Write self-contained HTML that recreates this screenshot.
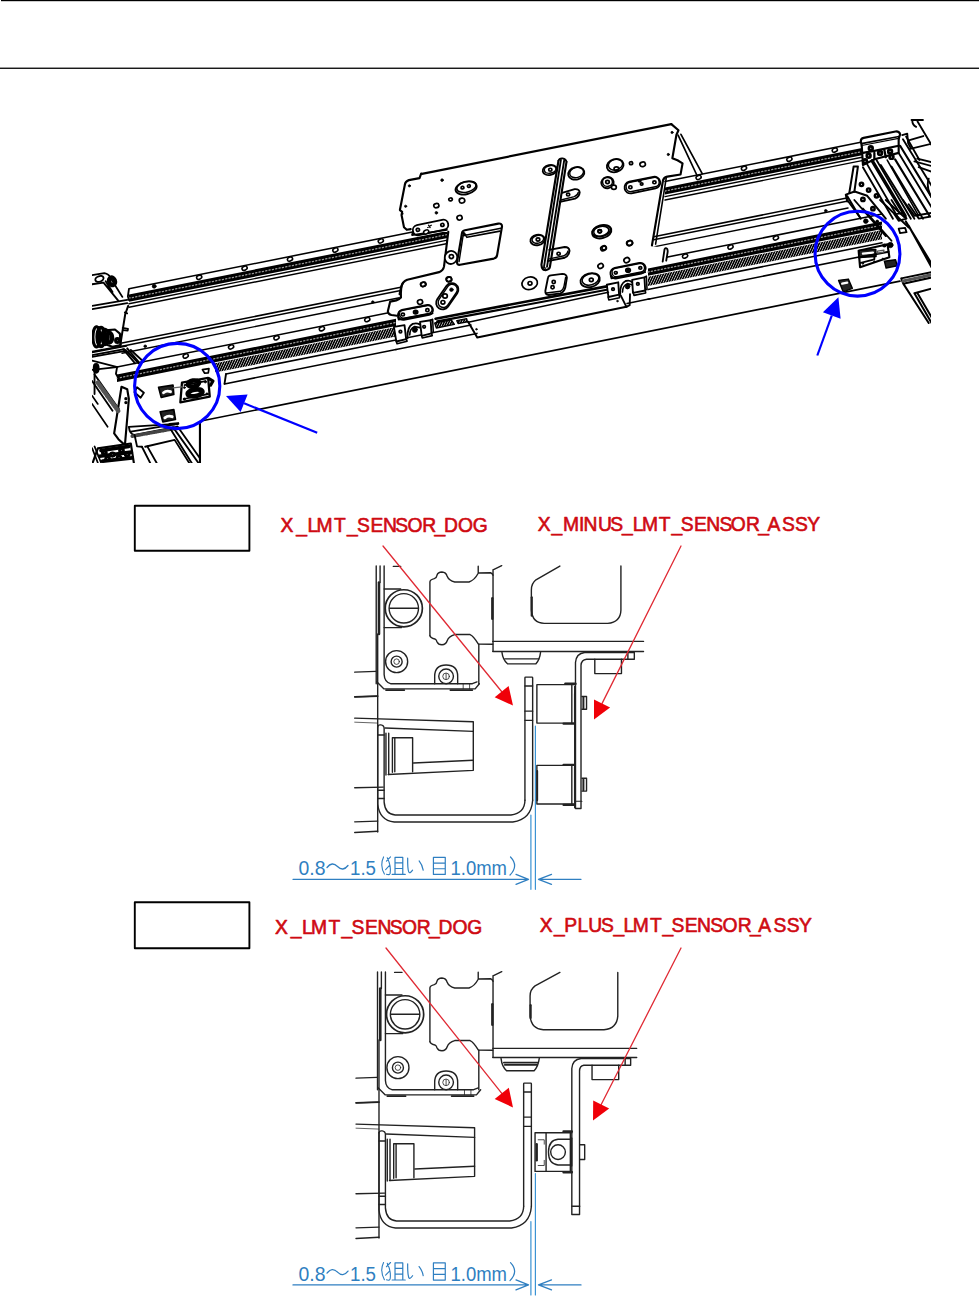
<!DOCTYPE html>
<html><head><meta charset="utf-8"><title>page</title>
<style>
html,body{margin:0;padding:0;background:#fff;}
body{width:979px;height:1301px;overflow:hidden;font-family:"Liberation Sans",sans-serif;}
svg{display:block;position:absolute;left:0;top:0;}
text{font-family:"Liberation Sans",sans-serif;}
</style></head><body>
<svg width="979" height="1301" viewBox="0 0 979 1301" stroke-linecap="round" stroke-linejoin="round">
<rect x="0" y="0" width="979" height="1301" fill="#fff"/>
<defs><clipPath id="topclip"><rect x="92" y="100" width="839" height="363"/></clipPath><pattern id="teeth" width="2.4" height="10" patternUnits="userSpaceOnUse" patternTransform="skewX(-25)"><rect width="2.4" height="10" fill="#000"/><rect x="0" width="0.7" height="10" fill="#ddd"/></pattern></defs>
<g clip-path="url(#topclip)">
<line x1="129" y1="288.70" x2="450" y2="224.50" stroke="#000" stroke-width="1.56" />
<polygon points="129,294.60 450,230.40 450,237.60 129,301.80" fill="#000" />
<line x1="129" y1="298.20" x2="450" y2="234.00" stroke="#999" stroke-width="1.28" stroke-dasharray="1.2 2.2"/>
<line x1="129" y1="303.80" x2="450" y2="239.60" stroke="#000" stroke-width="1.42" />
<line x1="129" y1="307.20" x2="450" y2="243.00" stroke="#000" stroke-width="1.42" />
<line x1="665" y1="181.50" x2="862" y2="142.10" stroke="#000" stroke-width="1.56" />
<polygon points="665,187.40 862,148.00 862,155.20 665,194.60" fill="#000" />
<line x1="665" y1="191.00" x2="862" y2="151.60" stroke="#999" stroke-width="1.28" stroke-dasharray="1.2 2.2"/>
<line x1="665" y1="196.60" x2="862" y2="157.20" stroke="#000" stroke-width="1.42" />
<line x1="665" y1="200.00" x2="862" y2="160.60" stroke="#000" stroke-width="1.42" />
<line x1="122" y1="343.00" x2="402" y2="287.00" stroke="#000" stroke-width="1.56" />
<line x1="122" y1="346.20" x2="402" y2="290.20" stroke="#000" stroke-width="1.56" />
<line x1="122" y1="353.20" x2="402" y2="297.20" stroke="#000" stroke-width="1.42" />
<line x1="650" y1="237.40" x2="848" y2="197.80" stroke="#000" stroke-width="1.56" />
<line x1="650" y1="240.60" x2="848" y2="201.00" stroke="#000" stroke-width="1.56" />
<line x1="650" y1="247.60" x2="848" y2="208.00" stroke="#000" stroke-width="1.42" />
<line x1="117" y1="367.10" x2="396" y2="311.30" stroke="#000" stroke-width="1.56" />
<polygon points="117,374.60 396,318.80 396,326.10 117,381.90" fill="#000" />
<line x1="117" y1="378.20" x2="396" y2="322.40" stroke="#999" stroke-width="1.28" stroke-dasharray="1.2 2.2"/>
<polygon points="215,363.30 396,327.10 396,336.40 215,372.60" fill="url(#teeth)" />
<line x1="226" y1="374.00" x2="396" y2="340.00" stroke="#000" stroke-width="1.56" />
<line x1="224.5" y1="383.90" x2="396" y2="349.60" stroke="#000" stroke-width="1.56" />
<line x1="396" y1="340.00" x2="471" y2="325.00" stroke="#000" stroke-width="1.56" />
<line x1="396" y1="349.60" x2="477" y2="333.40" stroke="#000" stroke-width="1.56" />
<line x1="627" y1="303.40" x2="650" y2="298.80" stroke="#000" stroke-width="1.56" />
<line x1="648" y1="260.90" x2="882" y2="214.10" stroke="#000" stroke-width="1.56" />
<polygon points="648,268.40 882,221.60 882,228.90 648,275.70" fill="#000" />
<line x1="648" y1="272.00" x2="882" y2="225.20" stroke="#999" stroke-width="1.28" stroke-dasharray="1.2 2.2"/>
<polygon points="648,276.70 882,229.90 882,239.20 648,286.00" fill="url(#teeth)" />
<line x1="648" y1="289.60" x2="882" y2="242.80" stroke="#000" stroke-width="1.56" />
<line x1="648" y1="299.20" x2="882" y2="252.40" stroke="#000" stroke-width="1.56" />
<line x1="201" y1="421.00" x2="900" y2="281.20" stroke="#000" stroke-width="1.70" />
</g>
<polygon points="421.9,173.9 671.3,124.1 678.5,130.2 672.4,158.2 677.5,160.3 682.6,163.3 680.5,174.6 666.2,176.6 663.2,181.7 652.5,246 666,248.7 664.4,260.2 649.7,263.5 644,280 605.5,289.2 464.5,319.9 396.9,318.5 390.7,315.8 387.7,311.7 390.7,303.5 398.9,301.5 401,289.2 403,283.1 407.1,279 441.8,270.9 443.9,266.8 447.9,238 447.4,232.1 413.7,231 404.5,226 400.4,211.7 405.5,185.2 408.6,180.1 419.8,178" fill="#fff" stroke="none"/>
<path d="M421.9 173.9 L671.3 124.1" stroke="#000" stroke-width="2.13" fill="none"/>
<path d="M 671.34 124.11 L 678.49 130.23 L 676.45 134.73 L 672.36 158.22 L 677.47 160.27 L 682.57 163.33 L 680.53 174.57 L 667.25 176.61 Q 663.17 177.63 662.76 181.72 L 651.93 245.45" stroke="#000" stroke-width="2.13" fill="none" />
<path d="M 666.23 178.24 L 655.61 244.23" stroke="#000" stroke-width="1.56" fill="none" />
<path d="M 678.08 135.14 L 697.28 176.0 M 680.94 134.32 L 702.19 173.54" stroke="#000" stroke-width="1.70" fill="none" />
<path d="M 421.15 173.6 L 419.51 178.17 L 408.89 180.13 Q 405.13 181.44 404.81 185.04 L 399.9 210.04 L 402.19 211.84 L 401.54 214.94 L 403.99 227.2 L 406.77 229.81 L 410.69 229.16" stroke="#000" stroke-width="2.13" fill="none" />
<ellipse cx="409.38" cy="185.85" rx="1.14" ry="1.14" transform="rotate(0 409.38 185.85)" stroke="#000" stroke-width="0.71" fill="#000"/>
<ellipse cx="442.07" cy="180.13" rx="1.31" ry="1.31" transform="rotate(0 442.07 180.13)" stroke="#000" stroke-width="0.71" fill="#000"/>
<ellipse cx="405.62" cy="206.28" rx="1.14" ry="1.14" transform="rotate(0 405.62 206.28)" stroke="#000" stroke-width="0.71" fill="#000"/>
<ellipse cx="436.35" cy="212.82" rx="1.31" ry="1.31" transform="rotate(0 436.35 212.82)" stroke="#000" stroke-width="0.71" fill="#000"/>
<ellipse cx="402.35" cy="213.8" rx="0.65" ry="0.65" transform="rotate(0 402.35 213.8)" stroke="#000" stroke-width="0.71" fill="#000"/>
<ellipse cx="436.35" cy="205.63" rx="2.61" ry="2.12" transform="rotate(-12 436.35 205.63)" stroke="#000" stroke-width="1.70" fill="none"/>
<ellipse cx="450.56" cy="199.42" rx="1.80" ry="1.47" transform="rotate(-12 450.56 199.42)" stroke="#000" stroke-width="1.70" fill="none"/>
<ellipse cx="462.0" cy="200.56" rx="2.78" ry="2.45" transform="rotate(-12 462.0 200.56)" stroke="#000" stroke-width="1.70" fill="none"/>
<ellipse cx="459.55" cy="217.72" rx="2.61" ry="2.29" transform="rotate(-12 459.55 217.72)" stroke="#000" stroke-width="1.70" fill="none"/>
<ellipse cx="466.09" cy="187.98" rx="10.79" ry="6.21" transform="rotate(-14 466.09 187.98)" stroke="#000" stroke-width="1.85" fill="none"/>
<ellipse cx="466.42" cy="186.83" rx="9.81" ry="5.23" transform="rotate(-14 466.42 186.83)" stroke="#000" stroke-width="1.56" fill="none"/>
<ellipse cx="462.49" cy="187.65" rx="1.47" ry="1.31" transform="rotate(-12 462.49 187.65)" stroke="#000" stroke-width="1.70" fill="none"/>
<ellipse cx="468.87" cy="186.02" rx="1.47" ry="1.31" transform="rotate(-12 468.87 186.02)" stroke="#000" stroke-width="1.70" fill="none"/>
<path d="M418.93 235.10 L444.26 229.71 A5.07 5.07 0 0 0 442.16 219.79 L416.83 225.18 A5.07 5.07 0 0 0 418.93 235.10 Z" stroke="#000" stroke-width="1.85" fill="#fff"/>
<path d="M 412.65 232.43 L 412.0 235.04 L 446.97 229.81" stroke="#000" stroke-width="1.70" fill="none" />
<ellipse cx="417.88" cy="229.81" rx="1.63" ry="1.47" transform="rotate(-12 417.88 229.81)" stroke="#000" stroke-width="1.70" fill="none"/>
<ellipse cx="442.39" cy="224.91" rx="1.63" ry="1.47" transform="rotate(-12 442.39 224.91)" stroke="#000" stroke-width="1.70" fill="none"/>
<path d="M 427.69 227.53 L 431.28 225.24 M 428.5 225.24 L 430.14 227.53" stroke="#000" stroke-width="1.28" fill="none" />
<path d="M 448.28 231.77 L 444.03 266.42 Q 443.37 270.51 439.12 272.14 L 407.26 279.82 Q 402.35 281.95 401.21 286.85 L 399.58 294.2" stroke="#000" stroke-width="2.13" fill="none" />
<ellipse cx="451.05" cy="257.43" rx="6.21" ry="6.54" transform="rotate(20 451.05 257.43)" stroke="#000" stroke-width="1.85" fill="#fff"/>
<ellipse cx="451.38" cy="256.62" rx="2.12" ry="1.96" transform="rotate(0 451.38 256.62)" stroke="#000" stroke-width="1.70" fill="none"/>
<path d="M 462.0 232.92 Q 462.33 230.79 464.95 230.3 L 498.28 223.6 Q 502.04 223.11 502.04 226.38 L 497.14 254.98 Q 496.65 257.92 493.87 258.58 L 460.04 264.79 Q 456.77 265.11 457.1 261.85 Z" stroke="#000" stroke-width="2.13" fill="#fff" />
<path d="M 462.98 235.7 L 500.9 228.18 M 466.91 237.33 L 499.92 231.12 M 464.46 233.08 L 466.91 237.33" stroke="#000" stroke-width="1.56" fill="none" />
<path d="M 463.64 232.1 L 459.06 261.52" stroke="#000" stroke-width="1.42" fill="none" />
<ellipse cx="423.11" cy="284.4" rx="2.45" ry="2.12" transform="rotate(-12 423.11 284.4)" stroke="#000" stroke-width="1.70" fill="none"/>
<ellipse cx="448.93" cy="279.17" rx="2.61" ry="2.29" transform="rotate(-12 448.93 279.17)" stroke="#000" stroke-width="1.70" fill="none"/>
<path d="M 558.47 160.72 Q 559.28 158.11 562.55 158.44 Q 566.15 159.09 566.47 161.87" stroke="#000" stroke-width="1.85" fill="none" />
<path d="M558.47 160.72 L541.44 264.65 Q541.77 270.04 545.53 270.2 Q549.61 269.22 549.94 266.77 L566.47 161.87" stroke="#000" stroke-width="2.13" fill="#fff"/>
<path d="M560.92 159.91 L544.05 266.28 M564.19 160.4 L547.0 266.93" stroke="#000" stroke-width="1.85" fill="none"/>
<ellipse cx="543.89" cy="268.4" rx="1.31" ry="1.31" transform="rotate(0 543.89 268.4)" stroke="#000" stroke-width="1.42" fill="none"/>
<ellipse cx="549.81" cy="170.04" rx="7.19" ry="4.90" transform="rotate(-12 549.81 170.04)" stroke="#000" stroke-width="1.85" fill="#fff"/>
<ellipse cx="550.13" cy="169.39" rx="5.88" ry="3.76" transform="rotate(-12 550.13 169.39)" stroke="#000" stroke-width="1.42" fill="none"/>
<ellipse cx="550.3" cy="169.71" rx="1.63" ry="1.47" transform="rotate(0 550.3 169.71)" stroke="#000" stroke-width="1.70" fill="none"/>
<path d="M 562.06 192.92 L 574.65 189.16 Q 579.22 188.83 579.71 192.43 Q 579.22 197.0 575.14 198.64 L 559.94 201.91" stroke="#000" stroke-width="1.85" fill="none" />
<path d="M 560.92 199.95 L 574.32 196.68 Q 577.91 195.04 578.24 192.43" stroke="#000" stroke-width="1.42" fill="none" />
<ellipse cx="568.11" cy="194.55" rx="1.63" ry="1.47" transform="rotate(0 568.11 194.55)" stroke="#000" stroke-width="1.70" fill="none"/>
<ellipse cx="537.51" cy="239.95" rx="7.19" ry="5.23" transform="rotate(-12 537.51 239.95)" stroke="#000" stroke-width="1.85" fill="#fff"/>
<ellipse cx="537.83" cy="239.29" rx="5.88" ry="3.92" transform="rotate(-12 537.83 239.29)" stroke="#000" stroke-width="1.42" fill="none"/>
<ellipse cx="538.0" cy="239.46" rx="1.80" ry="1.63" transform="rotate(0 538.0 239.46)" stroke="#000" stroke-width="1.70" fill="none"/>
<path d="M 549.28 249.94 L 564.65 247.0 Q 569.22 247.0 569.55 250.92 Q 568.9 255.82 564.65 257.78 L 547.65 261.05" stroke="#000" stroke-width="1.85" fill="none" />
<path d="M 548.3 259.09 L 563.99 255.82 Q 567.59 254.19 568.08 250.92" stroke="#000" stroke-width="1.42" fill="none" />
<ellipse cx="558.6" cy="253.7" rx="1.63" ry="1.47" transform="rotate(0 558.6 253.7)" stroke="#000" stroke-width="1.70" fill="none"/>
<ellipse cx="576.28" cy="173.31" rx="8.17" ry="6.21" transform="rotate(-15 576.28 173.31)" stroke="#000" stroke-width="1.85" fill="none"/>
<ellipse cx="576.61" cy="172.49" rx="7.03" ry="5.07" transform="rotate(-15 576.61 172.49)" stroke="#000" stroke-width="1.42" fill="none"/>
<ellipse cx="615.18" cy="165.63" rx="8.50" ry="6.54" transform="rotate(-15 615.18 165.63)" stroke="#000" stroke-width="1.85" fill="none"/>
<ellipse cx="615.5" cy="164.65" rx="7.19" ry="5.23" transform="rotate(-15 615.5 164.65)" stroke="#000" stroke-width="1.42" fill="none"/>
<ellipse cx="616.48" cy="168.9" rx="2.45" ry="1.96" transform="rotate(0 616.48 168.9)" stroke="#000" stroke-width="1.70" fill="none"/>
<ellipse cx="631.03" cy="163.18" rx="1.63" ry="1.47" transform="rotate(-12 631.03 163.18)" stroke="#000" stroke-width="1.70" fill="none"/>
<ellipse cx="642.63" cy="164.32" rx="2.78" ry="2.29" transform="rotate(-12 642.63 164.32)" stroke="#000" stroke-width="1.70" fill="none"/>
<ellipse cx="607.49" cy="182.62" rx="6.21" ry="5.56" transform="rotate(-12 607.49 182.62)" stroke="#000" stroke-width="1.85" fill="none"/>
<ellipse cx="607.49" cy="181.97" rx="4.90" ry="4.41" transform="rotate(-12 607.49 181.97)" stroke="#000" stroke-width="1.42" fill="none"/>
<ellipse cx="607.49" cy="181.97" rx="1.80" ry="1.63" transform="rotate(0 607.49 181.97)" stroke="#000" stroke-width="1.70" fill="none"/>
<ellipse cx="613.87" cy="187.2" rx="2.45" ry="2.12" transform="rotate(0 613.87 187.2)" stroke="#000" stroke-width="1.70" fill="#fff"/>
<path d="M631.55 193.29 L655.58 188.38 A5.88 5.88 0 0 0 653.22 176.86 L629.19 181.77 A5.88 5.88 0 0 0 631.55 193.29 Z" stroke="#000" stroke-width="1.85" fill="#fff"/>
<path d="M631.80 191.52 L655.34 186.78 A4.74 4.74 0 0 0 653.46 177.48 L629.92 182.22 A4.74 4.74 0 0 0 631.80 191.52 Z" stroke="#000" stroke-width="1.42" fill="none"/>
<ellipse cx="630.37" cy="187.2" rx="1.63" ry="1.47" transform="rotate(0 630.37 187.2)" stroke="#000" stroke-width="1.70" fill="none"/>
<ellipse cx="654.4" cy="182.3" rx="1.63" ry="1.47" transform="rotate(0 654.4 182.3)" stroke="#000" stroke-width="1.70" fill="none"/>
<ellipse cx="641.65" cy="183.93" rx="1.31" ry="1.14" transform="rotate(0 641.65 183.93)" stroke="#000" stroke-width="1.70" fill="none"/>
<ellipse cx="639.69" cy="180.99" rx="1.14" ry="0.98" transform="rotate(0 639.69 180.99)" stroke="#000" stroke-width="1.70" fill="none"/>
<ellipse cx="601.77" cy="231.65" rx="9.81" ry="6.54" transform="rotate(-15 601.77 231.65)" stroke="#000" stroke-width="1.85" fill="none"/>
<ellipse cx="602.1" cy="230.83" rx="8.50" ry="5.39" transform="rotate(-15 602.1 230.83)" stroke="#000" stroke-width="1.42" fill="none"/>
<ellipse cx="599.65" cy="231.32" rx="1.80" ry="1.63" transform="rotate(0 599.65 231.32)" stroke="#000" stroke-width="1.70" fill="none"/>
<ellipse cx="629.56" cy="243.09" rx="2.94" ry="2.29" transform="rotate(-12 629.56 243.09)" stroke="#000" stroke-width="1.70" fill="none"/>
<ellipse cx="604.06" cy="247.99" rx="2.12" ry="1.80" transform="rotate(-12 604.06 247.99)" stroke="#000" stroke-width="1.70" fill="none"/>
<ellipse cx="672.05" cy="132.45" rx="1.14" ry="1.14" transform="rotate(0 672.05 132.45)" stroke="#000" stroke-width="0.71" fill="#000"/>
<ellipse cx="668.29" cy="154.51" rx="1.14" ry="1.14" transform="rotate(0 668.29 154.51)" stroke="#000" stroke-width="0.71" fill="#000"/>
<ellipse cx="600.6" cy="231.31" rx="8.50" ry="4.90" transform="rotate(-12 600.6 231.31)" stroke="#000" stroke-width="1.85" fill="none"/>
<ellipse cx="599.95" cy="231.31" rx="1.63" ry="1.47" transform="rotate(0 599.95 231.31)" stroke="#000" stroke-width="1.70" fill="none"/>
<ellipse cx="603.54" cy="248.3" rx="2.94" ry="2.29" transform="rotate(-30 603.54 248.3)" stroke="#000" stroke-width="1.70" fill="none"/>
<ellipse cx="629.69" cy="243.07" rx="2.94" ry="2.45" transform="rotate(-30 629.69 243.07)" stroke="#000" stroke-width="1.70" fill="none"/>
<ellipse cx="626.75" cy="260.23" rx="2.94" ry="2.45" transform="rotate(-30 626.75 260.23)" stroke="#000" stroke-width="1.70" fill="none"/>
<ellipse cx="600.6" cy="265.95" rx="2.78" ry="2.29" transform="rotate(-30 600.6 265.95)" stroke="#000" stroke-width="1.70" fill="none"/>
<path d="M 547.98 277.72 Q 548.3 275.76 550.92 275.43 L 562.36 273.8 Q 566.61 273.8 566.93 277.72 L 565.3 287.53 Q 563.99 292.43 560.23 293.41 L 548.79 295.04 Q 545.04 294.72 545.36 290.79 Z" stroke="#000" stroke-width="1.85" fill="none" />
<path d="M 546.34 292.92 L 560.4 291.28 Q 563.34 289.81 563.99 286.38 L 565.63 277.39" stroke="#000" stroke-width="1.42" fill="none" />
<ellipse cx="553.7" cy="281.97" rx="1.63" ry="1.63" transform="rotate(0 553.7 281.97)" stroke="#000" stroke-width="1.70" fill="none"/>
<ellipse cx="552.55" cy="287.2" rx="1.63" ry="1.63" transform="rotate(0 552.55 287.2)" stroke="#000" stroke-width="1.70" fill="none"/>
<ellipse cx="590.14" cy="280.17" rx="9.81" ry="6.86" transform="rotate(-15 590.14 280.17)" stroke="#000" stroke-width="1.85" fill="none"/>
<ellipse cx="590.47" cy="279.35" rx="8.50" ry="5.56" transform="rotate(-15 590.47 279.35)" stroke="#000" stroke-width="1.42" fill="none"/>
<ellipse cx="591.28" cy="279.84" rx="1.96" ry="1.80" transform="rotate(0 591.28 279.84)" stroke="#000" stroke-width="1.70" fill="none"/>
<ellipse cx="529.67" cy="283.28" rx="7.84" ry="6.21" transform="rotate(-15 529.67 283.28)" stroke="#000" stroke-width="1.70" fill="none"/>
<ellipse cx="530.0" cy="283.28" rx="1.96" ry="1.80" transform="rotate(0 530.0 283.28)" stroke="#000" stroke-width="1.70" fill="none"/>
<path d="M616.86 278.43 L641.37 273.53 A5.39 5.39 0 0 0 639.25 262.95 L614.74 267.85 A5.39 5.39 0 0 0 616.86 278.43 Z" stroke="#000" stroke-width="1.85" fill="#fff"/>
<path d="M617.11 276.66 L641.13 271.92 A4.25 4.25 0 0 0 639.49 263.58 L615.47 268.32 A4.25 4.25 0 0 0 617.11 276.66 Z" stroke="#000" stroke-width="1.42" fill="none"/>
<path d="M 610.73 275.76 L 611.39 278.37 L 645.21 272.16" stroke="#000" stroke-width="1.70" fill="none" />
<ellipse cx="615.8" cy="272.82" rx="1.47" ry="1.31" transform="rotate(0 615.8 272.82)" stroke="#000" stroke-width="1.70" fill="none"/>
<ellipse cx="628.06" cy="270.2" rx="1.63" ry="1.63" transform="rotate(0 628.06 270.2)" stroke="#000" stroke-width="0.71" fill="#000"/>
<ellipse cx="628.06" cy="270.2" rx="2.29" ry="1.96" transform="rotate(0 628.06 270.2)" stroke="#000" stroke-width="1.70" fill="none"/>
<ellipse cx="640.31" cy="267.91" rx="1.47" ry="1.31" transform="rotate(0 640.31 267.91)" stroke="#000" stroke-width="1.70" fill="none"/>
<path d="M 606.81 284.75 L 618.25 282.3 L 619.07 294.55 L 608.44 297.0 Z" stroke="#000" stroke-width="1.85" fill="#fff" />
<ellipse cx="613.02" cy="289.16" rx="1.31" ry="1.31" transform="rotate(0 613.02 289.16)" stroke="#000" stroke-width="1.70" fill="none"/>
<path d="M 608.12 297.0 L 608.77 299.95 L 619.56 297.66 L 619.07 294.55" stroke="#000" stroke-width="1.56" fill="none" />
<path d="M 632.14 279.84 L 644.4 277.39 L 645.21 290.47 L 632.96 292.92 Z" stroke="#000" stroke-width="1.85" fill="#fff" />
<ellipse cx="637.86" cy="283.93" rx="1.31" ry="1.31" transform="rotate(0 637.86 283.93)" stroke="#000" stroke-width="1.70" fill="none"/>
<path d="M 633.28 292.92 L 633.94 295.37 L 645.71 292.92 L 645.21 290.47 M 644.4 277.39 L 646.36 276.09 L 647.01 288.83 L 645.21 290.47" stroke="#000" stroke-width="1.56" fill="none" />
<path d="M 620.21 294.06 Q 619.56 283.93 625.6 280.99 Q 629.69 279.84 631.65 281.97" stroke="#000" stroke-width="1.85" fill="none" />
<path d="M 622.5 292.1 Q 622.5 285.56 627.4 283.6 L 631.65 284.75" stroke="#000" stroke-width="1.56" fill="none" />
<ellipse cx="627.56" cy="286.38" rx="2.29" ry="2.61" transform="rotate(0 627.56 286.38)" stroke="#000" stroke-width="0.71" fill="#000"/>
<path d="M 620.7 295.37 L 626.42 306.81 L 629.69 305.18 L 630.02 294.06" stroke="#000" stroke-width="1.85" fill="none" />
<ellipse cx="617.43" cy="301.09" rx="0.82" ry="0.82" transform="rotate(0 617.43 301.09)" stroke="#000" stroke-width="0.71" fill="#000"/>
<path d="M435.56 318.64 L606.81 286.38" stroke="#000" stroke-width="2.56" fill="none"/>
<path d="M437.2 321.42 L606.81 289.81" stroke="#000" stroke-width="2.13" fill="none"/>
<path d="M468.25 321.91 L477.24 337.43 L626.42 306.81" stroke="#000" stroke-width="1.99" fill="none"/>
<path d="M468.25 322.23 L608.44 292.27" stroke="#000" stroke-width="1.56" fill="none"/>
<ellipse cx="476.42" cy="329.26" rx="0.82" ry="0.82" transform="rotate(0 476.42 329.26)" stroke="#000" stroke-width="0.71" fill="#000"/>
<path d="M 400.92 297.39 Q 399.28 299.68 396.34 300.34 L 390.13 301.64 L 387.84 311.28 Q 388.17 314.06 391.44 315.04 L 397.0 315.7" stroke="#000" stroke-width="2.13" fill="none" />
<path d="M 402.88 283.01 Q 400.59 286.77 400.92 297.39" stroke="#000" stroke-width="2.13" fill="none" />
<ellipse cx="423.31" cy="284.32" rx="2.78" ry="2.12" transform="rotate(-12 423.31 284.32)" stroke="#000" stroke-width="1.70" fill="none"/>
<ellipse cx="448.97" cy="279.42" rx="2.78" ry="2.29" transform="rotate(-12 448.97 279.42)" stroke="#000" stroke-width="1.70" fill="none"/>
<ellipse cx="420.04" cy="301.97" rx="2.61" ry="2.29" transform="rotate(-12 420.04 301.97)" stroke="#000" stroke-width="1.70" fill="none"/>
<path d="M447.96 306.68 L457.28 293.28 A6.54 6.54 0 0 0 446.54 285.82 L437.22 299.22 A6.54 6.54 0 0 0 447.96 306.68 Z" stroke="#000" stroke-width="1.85" fill="#fff"/>
<path d="M447.74 305.24 L456.40 292.49 A5.23 5.23 0 0 0 447.74 286.61 L439.08 299.36 A5.23 5.23 0 0 0 447.74 305.24 Z" stroke="#000" stroke-width="1.42" fill="none"/>
<ellipse cx="451.42" cy="289.71" rx="1.80" ry="1.80" transform="rotate(0 451.42 289.71)" stroke="#000" stroke-width="0.71" fill="#000"/>
<ellipse cx="445.04" cy="295.92" rx="2.29" ry="2.12" transform="rotate(0 445.04 295.92)" stroke="#000" stroke-width="1.70" fill="none"/>
<ellipse cx="442.92" cy="302.3" rx="1.96" ry="1.80" transform="rotate(0 442.92 302.3)" stroke="#000" stroke-width="1.70" fill="none"/>
<path d="M403.84 319.85 L429.17 314.95 A5.07 5.07 0 0 0 427.25 305.01 L401.92 309.91 A5.07 5.07 0 0 0 403.84 319.85 Z" stroke="#000" stroke-width="1.85" fill="#fff"/>
<path d="M404.11 318.08 L428.95 313.34 A3.92 3.92 0 0 0 427.47 305.64 L402.63 310.38 A3.92 3.92 0 0 0 404.11 318.08 Z" stroke="#000" stroke-width="1.42" fill="none"/>
<path d="M 397.98 317.0 L 398.63 319.62 L 432.62 313.41" stroke="#000" stroke-width="1.70" fill="none" />
<ellipse cx="402.88" cy="314.55" rx="1.63" ry="1.47" transform="rotate(0 402.88 314.55)" stroke="#000" stroke-width="1.70" fill="none"/>
<ellipse cx="415.63" cy="312.1" rx="1.47" ry="1.47" transform="rotate(0 415.63 312.1)" stroke="#000" stroke-width="0.71" fill="#000"/>
<ellipse cx="415.63" cy="312.1" rx="2.12" ry="1.80" transform="rotate(0 415.63 312.1)" stroke="#000" stroke-width="1.70" fill="none"/>
<ellipse cx="427.39" cy="310.14" rx="1.63" ry="1.47" transform="rotate(0 427.39 310.14)" stroke="#000" stroke-width="1.70" fill="none"/>
<path d="M 393.89 326.81 L 404.51 325.18 L 406.15 339.07 L 396.34 341.52 Z" stroke="#000" stroke-width="1.85" fill="#fff" />
<ellipse cx="400.43" cy="331.71" rx="1.31" ry="1.31" transform="rotate(0 400.43 331.71)" stroke="#000" stroke-width="1.70" fill="none"/>
<path d="M 396.34 341.52 L 397.0 343.81 L 407.13 341.19 L 406.15 339.07" stroke="#000" stroke-width="1.56" fill="none" />
<path d="M 420.04 321.91 L 430.66 320.27 L 431.48 333.35 L 421.67 335.8 Z" stroke="#000" stroke-width="1.85" fill="#fff" />
<ellipse cx="424.12" cy="326.81" rx="1.31" ry="1.31" transform="rotate(0 424.12 326.81)" stroke="#000" stroke-width="1.70" fill="none"/>
<path d="M 421.67 335.8 L 422.16 337.92 L 432.3 335.63 L 431.48 333.35 M 430.66 320.27 L 432.62 319.29 L 433.28 331.71 L 431.48 333.35" stroke="#000" stroke-width="1.56" fill="none" />
<path d="M 407.46 338.25 Q 406.97 326.81 412.69 323.87 Q 416.77 322.72 419.71 324.36" stroke="#000" stroke-width="1.85" fill="none" />
<path d="M 409.74 334.98 Q 409.74 328.44 414.65 326.48 L 419.71 327.63" stroke="#000" stroke-width="1.56" fill="none" />
<ellipse cx="414.81" cy="329.59" rx="2.61" ry="2.94" transform="rotate(0 414.81 329.59)" stroke="#000" stroke-width="0.71" fill="#000"/>
<path d="M 434.75 323.05 L 451.09 319.78 L 454.36 324.36 L 436.38 327.95 Z" stroke="#000" stroke-width="1.42" fill="url(#teeth)" />
<path d="M 456.81 320.6 L 466.62 318.64 L 467.43 321.91 L 458.12 323.54 Z" stroke="#000" stroke-width="1.42" fill="url(#teeth)" />
<g clip-path="url(#topclip)">
<path d="M 128.86 289.51 L 127.88 296.38 L 128.86 300.14" stroke="#000" stroke-width="1.85" fill="none" />
<ellipse cx="154.19" cy="286.25" rx="1.96" ry="1.96" transform="rotate(0 154.19 286.25)" stroke="#000" stroke-width="0.71" fill="#000"/>
<ellipse cx="99.44" cy="278.89" rx="4.25" ry="2.78" transform="rotate(-20 99.44 278.89)" stroke="#000" stroke-width="1.85" fill="none"/>
<path d="M 92.09 275.13 L 104.34 273.17 Q 108.92 273.99 110.06 277.26 L 122.32 296.87 M 92.09 284.28 L 103.53 282.65 L 118.23 300.63 M 105.65 281.34 L 112.51 291.97" stroke="#000" stroke-width="1.85" fill="none" />
<ellipse cx="112.02" cy="281.34" rx="2.94" ry="3.92" transform="rotate(-20 112.02 281.34)" stroke="#000" stroke-width="4.26" fill="none"/>
<path d="M 92.09 305.86 L 127.22 299.81 M 92.09 309.12 L 127.22 303.08" stroke="#000" stroke-width="1.85" fill="none" />
<path d="M 128.2 305.86 L 125.26 314.03 L 123.14 327.1 L 120.03 346.71" stroke="#000" stroke-width="1.99" fill="none" />
<path d="M 124.77 312.39 L 127.22 313.37 M 122.65 327.92 L 128.04 328.74 L 127.71 330.7 L 122.97 330.04" stroke="#000" stroke-width="1.70" fill="none" />
<ellipse cx="96.5" cy="336.91" rx="3.60" ry="10.13" transform="rotate(0 96.5 336.91)" stroke="#000" stroke-width="3.12" fill="none"/>
<ellipse cx="101.07" cy="336.91" rx="3.92" ry="9.48" transform="rotate(0 101.07 336.91)" stroke="#000" stroke-width="3.55" fill="none"/>
<ellipse cx="105.16" cy="336.91" rx="3.27" ry="7.84" transform="rotate(0 105.16 336.91)" stroke="#000" stroke-width="2.84" fill="none"/>
<path d="M 96.5 326.77 L 105.16 329.06 M 96.5 347.04 L 105.16 344.75" stroke="#000" stroke-width="2.13" fill="none" />
<path d="M 105.16 330.37 L 114.97 329.55 L 119.87 333.64 L 120.69 345.08 L 112.51 346.71 L 105.16 344.26" stroke="#000" stroke-width="2.13" fill="none" />
<ellipse cx="109.25" cy="337.72" rx="2.94" ry="4.90" transform="rotate(0 109.25 337.72)" stroke="#000" stroke-width="4.26" fill="none"/>
<ellipse cx="117.42" cy="340.5" rx="1.80" ry="1.96" transform="rotate(0 117.42 340.5)" stroke="#000" stroke-width="3.12" fill="none"/>
<path d="M 97.81 332.0 L 97.81 341.81 M 103.53 331.19 L 103.53 342.63" stroke="#000" stroke-width="3.12" fill="none" />
<path d="M 92.09 351.62 L 120.69 346.39 M 92.09 355.21 L 124.28 349.16 M 92.09 360.6 L 117.42 367.14" stroke="#000" stroke-width="1.85" fill="none" />
<ellipse cx="145.2" cy="346.22" rx="1.31" ry="1.31" transform="rotate(0 145.2 346.22)" stroke="#000" stroke-width="0.71" fill="#000"/>
<path d="M 123.14 349.16 L 135.07 363.38 M 127.22 348.35 L 138.99 362.4" stroke="#000" stroke-width="1.85" fill="none" />
<path d="M 117.09 367.14 L 115.95 373.68 L 118.4 378.09" stroke="#000" stroke-width="1.85" fill="none" />
<path d="M 125.59 350.0 L 138.66 363.4 M 130.82 350.0 L 143.56 361.77" stroke="#000" stroke-width="1.85" fill="none" />
<path d="M 92.09 352.45 L 126.4 345.91 M 92.09 369.94 L 116.6 367.16 M 92.09 356.86 L 125.59 350.82" stroke="#000" stroke-width="1.70" fill="none" />
<path d="M 137.03 387.26 L 143.89 392.82 L 140.62 397.72 L 134.41 392.16 Z" stroke="#000" stroke-width="1.85" fill="none" />
<path d="M 121.5 386.77 L 127.22 389.22 L 128.86 399.03 L 124.93 445.11 L 118.4 439.23 L 114.15 433.35 Z" stroke="#000" stroke-width="2.13" fill="#fff" />
<ellipse cx="125.91" cy="398.7" rx="0.82" ry="0.82" transform="rotate(0 125.91 398.7)" stroke="#000" stroke-width="1.70" fill="none"/>
<ellipse cx="125.91" cy="402.62" rx="0.82" ry="0.82" transform="rotate(0 125.91 402.62)" stroke="#000" stroke-width="1.70" fill="none"/>
<path d="M 94.54 374.51 L 119.05 409.16 M 92.09 381.05 L 112.51 410.79" stroke="#000" stroke-width="1.85" fill="none" />
<path d="M 97.81 382.69 L 119.05 412.1" stroke="#555" stroke-width="4.54" fill="none" stroke-dasharray="1 1.6"/>
<path d="M 94.54 364.71 L 94.54 394.12" stroke="#000" stroke-width="1.85" fill="none" />
<ellipse cx="96.17" cy="368.3" rx="1.63" ry="3.60" transform="rotate(0 96.17 368.3)" stroke="#000" stroke-width="3.55" fill="none"/>
<path d="M 92.09 395.76 L 97.81 403.93 M 92.09 403.93 L 107.61 426.81" stroke="#000" stroke-width="1.70" fill="none" />
<path d="M 128.86 426.81 Q 129.67 434.16 134.58 434.98 L 176.25 426.81 M 130.82 431.71 L 174.62 424.36 M 128.86 426.81 L 176.25 423.87" stroke="#000" stroke-width="1.85" fill="none" />
<path d="M 132.12 436.29 L 175.43 428.44" stroke="#444" stroke-width="3.41" fill="none" stroke-dasharray="1.2 1.2"/>
<path d="M 199.95 421.91 L 199.95 464.4" stroke="#000" stroke-width="2.13" fill="none" />
<path d="M 172.98 427.14 L 199.46 464.4 M 177.56 426.48 L 199.95 458.19 M 169.71 427.79 L 192.59 464.4" stroke="#000" stroke-width="1.85" fill="none" />
<path d="M 145.2 446.75 L 174.62 439.88 L 190.14 464.4 M 141.93 446.75 L 150.92 464.4 M 147.16 446.09 L 157.46 464.4" stroke="#000" stroke-width="1.85" fill="none" />
<path d="M 134.58 434.98 L 137.03 446.42 L 141.93 446.75" stroke="#000" stroke-width="1.85" fill="none" />
<path d="M 97.81 448.38 L 130.82 443.48 L 134.09 464.4 L 92.09 464.4 Z" stroke="#000" stroke-width="2.13" fill="#fff" />
<path d="M 101.07 450.51 L 128.86 446.42 M 99.44 456.23 L 131.31 452.14 M 102.71 461.13 L 132.12 457.86" stroke="#000" stroke-width="3.69" fill="none" />
<ellipse cx="104.34" cy="452.63" rx="1.96" ry="1.63" transform="rotate(0 104.34 452.63)" stroke="#000" stroke-width="2.84" fill="#fff"/>
<ellipse cx="112.51" cy="454.59" rx="1.96" ry="1.63" transform="rotate(0 112.51 454.59)" stroke="#000" stroke-width="2.84" fill="#fff"/>
<ellipse cx="121.5" cy="450.51" rx="1.96" ry="1.63" transform="rotate(0 121.5 450.51)" stroke="#000" stroke-width="2.84" fill="#fff"/>
<ellipse cx="107.61" cy="458.68" rx="1.96" ry="1.63" transform="rotate(0 107.61 458.68)" stroke="#000" stroke-width="2.84" fill="#fff"/>
<ellipse cx="119.05" cy="457.86" rx="1.96" ry="1.63" transform="rotate(0 119.05 457.86)" stroke="#000" stroke-width="2.84" fill="#fff"/>
<ellipse cx="127.22" cy="454.59" rx="1.96" ry="1.63" transform="rotate(0 127.22 454.59)" stroke="#000" stroke-width="2.84" fill="#fff"/>
<path d="M 92.09 448.06 L 97.81 462.76 M 94.54 446.42 L 101.07 462.76" stroke="#000" stroke-width="1.70" fill="none" />
<path d="M 181.97 382.69 L 208.12 377.78 L 209.75 396.58 L 180.34 402.3 Z" stroke="#000" stroke-width="2.27" fill="#fff" />
<path d="M 184.42 385.14 L 205.67 381.05 M 183.6 399.03 L 208.12 394.12" stroke="#000" stroke-width="1.70" fill="none" />
<ellipse cx="193.41" cy="383.5" rx="5.72" ry="2.94" transform="rotate(-10 193.41 383.5)" stroke="#000" stroke-width="4.54" fill="none"/>
<ellipse cx="195.04" cy="392.82" rx="7.35" ry="3.27" transform="rotate(-10 195.04 392.82)" stroke="#000" stroke-width="4.83" fill="none"/>
<ellipse cx="205.34" cy="381.87" rx="1.14" ry="1.14" transform="rotate(0 205.34 381.87)" stroke="#000" stroke-width="0.71" fill="#000"/>
<ellipse cx="184.42" cy="399.03" rx="1.14" ry="1.14" transform="rotate(0 184.42 399.03)" stroke="#000" stroke-width="0.71" fill="#000"/>
<ellipse cx="184.42" cy="387.59" rx="0.98" ry="0.98" transform="rotate(0 184.42 387.59)" stroke="#000" stroke-width="0.71" fill="#000"/>
<ellipse cx="206.97" cy="393.8" rx="0.98" ry="0.98" transform="rotate(0 206.97 393.8)" stroke="#000" stroke-width="0.71" fill="#000"/>
<path d="M 208.93 378.6 L 213.02 381.05 L 210.57 385.14" stroke="#000" stroke-width="3.12" fill="none" />
<path d="M 158.6 387.26 L 172.98 385.14 L 173.8 394.45 L 161.21 397.39 Z" stroke="#000" stroke-width="1.70" fill="#222" />
<path d="M 163.5 392.82 Q 166.44 390.04 170.53 391.67" stroke="#fff" stroke-width="2.84" fill="none" />
<path d="M 160.23 411.77 L 173.8 409.65 L 175.43 419.46 L 162.85 421.91 Z" stroke="#000" stroke-width="1.70" fill="#222" />
<path d="M 164.81 417.82 Q 168.08 415.04 172.16 416.68" stroke="#fff" stroke-width="2.84" fill="none" />
<path d="M 172.98 387.91 L 181.97 386.93" stroke="#666" stroke-width="1.28" fill="none" />
<path d="M 202.4 369.61 L 208.93 368.63 L 208.28 372.88 L 204.69 373.21 Z" stroke="#000" stroke-width="1.70" fill="none" />
<path d="M 169.71 424.36 L 177.88 423.54" stroke="#000" stroke-width="2.84" fill="none" />
<path d="M226 374.0 L224.5 383.9" stroke="#000" stroke-width="1.85"/>
</g>
<ellipse cx="199.2" cy="277.3" rx="2.7" ry="1.9" transform="rotate(-25 199.2 277.3)" fill="#fff" stroke="#000" stroke-width="1.56"/>
<ellipse cx="244.6" cy="268.2" rx="2.7" ry="1.9" transform="rotate(-25 244.6 268.2)" fill="#fff" stroke="#000" stroke-width="1.56"/>
<ellipse cx="290.0" cy="259.1" rx="2.7" ry="1.9" transform="rotate(-25 290.0 259.1)" fill="#fff" stroke="#000" stroke-width="1.56"/>
<ellipse cx="335.4" cy="250.0" rx="2.7" ry="1.9" transform="rotate(-25 335.4 250.0)" fill="#fff" stroke="#000" stroke-width="1.56"/>
<ellipse cx="380.8" cy="240.9" rx="2.7" ry="1.9" transform="rotate(-25 380.8 240.9)" fill="#fff" stroke="#000" stroke-width="1.56"/>
<ellipse cx="426.2" cy="231.9" rx="2.7" ry="1.9" transform="rotate(-25 426.2 231.9)" fill="#fff" stroke="#000" stroke-width="1.56"/>
<ellipse cx="698.5999999999999" cy="177.4" rx="2.7" ry="1.9" transform="rotate(-25 698.5999999999999 177.4)" fill="#fff" stroke="#000" stroke-width="1.56"/>
<ellipse cx="744.0" cy="168.3" rx="2.7" ry="1.9" transform="rotate(-25 744.0 168.3)" fill="#fff" stroke="#000" stroke-width="1.56"/>
<ellipse cx="789.4" cy="159.2" rx="2.7" ry="1.9" transform="rotate(-25 789.4 159.2)" fill="#fff" stroke="#000" stroke-width="1.56"/>
<ellipse cx="834.8" cy="150.1" rx="2.7" ry="1.9" transform="rotate(-25 834.8 150.1)" fill="#fff" stroke="#000" stroke-width="1.56"/>
<ellipse cx="185.7" cy="356.0" rx="2.7" ry="1.9" transform="rotate(-25 185.7 356.0)" fill="#fff" stroke="#000" stroke-width="1.56"/>
<ellipse cx="231.1" cy="346.9" rx="2.7" ry="1.9" transform="rotate(-25 231.1 346.9)" fill="#fff" stroke="#000" stroke-width="1.56"/>
<ellipse cx="276.5" cy="337.8" rx="2.7" ry="1.9" transform="rotate(-25 276.5 337.8)" fill="#fff" stroke="#000" stroke-width="1.56"/>
<ellipse cx="321.9" cy="328.7" rx="2.7" ry="1.9" transform="rotate(-25 321.9 328.7)" fill="#fff" stroke="#000" stroke-width="1.56"/>
<ellipse cx="367.3" cy="319.6" rx="2.7" ry="1.9" transform="rotate(-25 367.3 319.6)" fill="#fff" stroke="#000" stroke-width="1.56"/>
<ellipse cx="685.0999999999999" cy="256.1" rx="2.7" ry="1.9" transform="rotate(-25 685.0999999999999 256.1)" fill="#fff" stroke="#000" stroke-width="1.56"/>
<ellipse cx="730.5" cy="247.0" rx="2.7" ry="1.9" transform="rotate(-25 730.5 247.0)" fill="#fff" stroke="#000" stroke-width="1.56"/>
<ellipse cx="775.9" cy="237.9" rx="2.7" ry="1.9" transform="rotate(-25 775.9 237.9)" fill="#fff" stroke="#000" stroke-width="1.56"/>
<ellipse cx="372.77" cy="302.06" rx="1.23" ry="1.23" transform="rotate(0 372.77 302.06)" stroke="#000" stroke-width="0.71" fill="#000"/>
<g clip-path="url(#topclip)">
<path d="M 911.54 120.01 L 922.98 120.01 M 912.26 120.3 Q 912.26 125.02 916.12 126.87 M 917.55 121.44 L 931.56 145.04" stroke="#000" stroke-width="1.85" fill="none" />
<path d="M 860.78 141.17 Q 860.78 138.6 863.64 137.89 L 895.52 131.45 Q 899.39 131.16 900.1 134.31 L 898.67 138.89 L 861.78 146.04 Z" stroke="#000" stroke-width="2.13" fill="#fff" />
<path d="M 861.49 143.61 L 898.96 136.46" stroke="#000" stroke-width="1.56" fill="none" />
<path d="M 902.25 135.03 L 907.25 133.6 L 908.11 143.18 L 910.4 147.47 M 908.68 140.32 L 923.27 136.03 M 910.11 148.9 L 931.56 143.75" stroke="#000" stroke-width="1.85" fill="none" />
<path d="M 861.78 146.04 L 862.92 165.06 L 874.36 159.34 L 898.67 152.9 L 898.67 138.89" stroke="#000" stroke-width="2.13" fill="#fff" />
<ellipse cx="868.64" cy="155.76" rx="1.86" ry="1.86" transform="rotate(0 868.64 155.76)" stroke="#000" stroke-width="2.70" fill="#fff"/>
<ellipse cx="880.08" cy="152.9" rx="1.86" ry="1.86" transform="rotate(0 880.08 152.9)" stroke="#000" stroke-width="2.70" fill="#fff"/>
<ellipse cx="890.09" cy="151.47" rx="1.86" ry="1.86" transform="rotate(0 890.09 151.47)" stroke="#000" stroke-width="2.70" fill="#fff"/>
<ellipse cx="865.07" cy="161.19" rx="1.86" ry="1.86" transform="rotate(0 865.07 161.19)" stroke="#000" stroke-width="2.70" fill="#fff"/>
<ellipse cx="891.52" cy="156.9" rx="1.86" ry="1.86" transform="rotate(0 891.52 156.9)" stroke="#000" stroke-width="2.70" fill="#fff"/>
<ellipse cx="870.79" cy="148.32" rx="1.86" ry="1.86" transform="rotate(0 870.79 148.32)" stroke="#000" stroke-width="2.70" fill="#fff"/>
<path d="M 874.36 152.9 L 874.36 159.34 M 884.37 150.04 L 885.8 157.19 M 862.92 152.9 L 874.36 150.76 L 898.67 145.75" stroke="#000" stroke-width="2.27" fill="none" />
<path d="M 862.92 167.2 L 892.95 218.68" stroke="#000" stroke-width="1.85" fill="none" />
<path d="M 867.21 164.34 L 898.67 218.68" stroke="#000" stroke-width="1.85" fill="none" />
<path d="M 872.22 160.77 L 905.11 215.82" stroke="#000" stroke-width="3.41" fill="none" />
<path d="M 876.51 160.05 L 910.83 218.68" stroke="#000" stroke-width="1.85" fill="none" />
<path d="M 880.8 165.06 L 914.4 218.68" stroke="#000" stroke-width="1.85" fill="none" />
<path d="M 891.52 166.49 L 922.98 218.68" stroke="#000" stroke-width="1.85" fill="none" />
<path d="M 895.1 159.34 L 929.42 215.82" stroke="#000" stroke-width="2.13" fill="none" />
<path d="M 898.67 152.9 L 931.56 207.24" stroke="#000" stroke-width="1.85" fill="none" />
<path d="M 900.1 145.75 L 931.56 197.23" stroke="#000" stroke-width="2.13" fill="none" />
<path d="M 902.96 139.32 L 931.56 185.79" stroke="#000" stroke-width="1.85" fill="none" />
<path d="M 906.11 136.46 L 919.41 160.05" stroke="#000" stroke-width="1.85" fill="none" />
<path d="M 887.23 160.05 L 918.69 215.82" stroke="#000" stroke-width="1.56" fill="none" />
<path d="M 914.4 161.48 L 931.56 166.06 M 917.26 158.62 L 931.56 162.2 M 918.69 167.2 L 931.56 171.78 M 928.7 178.64 Q 925.84 187.22 931.56 197.23" stroke="#000" stroke-width="1.85" fill="none" />
<path d="M 853.63 166.49 L 849.34 192.65 M 857.92 166.49 L 854.34 191.8 M 853.63 166.49 L 857.92 166.49" stroke="#000" stroke-width="1.99" fill="none" />
<path d="M 845.76 194.66 L 854.63 191.51 L 867.21 195.8 L 885.8 218.68 M 847.19 196.09 L 860.78 218.68 M 845.76 194.66 L 847.19 201.52" stroke="#000" stroke-width="1.99" fill="none" />
<ellipse cx="862.92" cy="199.38" rx="1.72" ry="1.72" transform="rotate(0 862.92 199.38)" stroke="#000" stroke-width="2.41" fill="#fff"/>
<ellipse cx="876.51" cy="195.8" rx="1.72" ry="1.72" transform="rotate(0 876.51 195.8)" stroke="#000" stroke-width="2.41" fill="#fff"/>
<ellipse cx="868.64" cy="190.08" rx="1.72" ry="1.72" transform="rotate(0 868.64 190.08)" stroke="#000" stroke-width="2.41" fill="#fff"/>
<ellipse cx="872.93" cy="208.67" rx="1.72" ry="1.72" transform="rotate(0 872.93 208.67)" stroke="#000" stroke-width="2.41" fill="#fff"/>
<ellipse cx="861.49" cy="184.36" rx="1.72" ry="1.72" transform="rotate(0 861.49 184.36)" stroke="#000" stroke-width="2.41" fill="#fff"/>
<path d="M 847.19 200.0 L 860.06 217.45 M 854.34 200.0 L 885.8 236.04 M 862.92 208.58 L 891.52 240.76 M 880.08 200.0 L 908.68 227.46 M 885.8 200.0 L 905.82 218.59" stroke="#000" stroke-width="1.85" fill="none" />
<path d="M 905.82 221.45 L 931.56 263.64 M 908.68 225.74 L 931.56 267.21" stroke="#000" stroke-width="2.13" fill="none" />
<path d="M 894.38 214.3 L 902.96 212.87 L 906.54 218.59 L 898.67 220.74 Z M 898.67 228.6 L 905.11 227.89 L 906.54 232.18 L 900.1 233.18 Z" stroke="#000" stroke-width="1.85" fill="none" />
<path d="M 891.52 200.0 L 900.1 213.59 M 902.96 200.0 L 914.4 215.73 L 931.56 212.87 M 908.68 204.29 L 918.69 218.59 L 931.56 216.45" stroke="#000" stroke-width="1.85" fill="none" />
<ellipse cx="825.74" cy="210.73" rx="1.29" ry="1.29" transform="rotate(0 825.74 210.73)" stroke="#000" stroke-width="0.71" fill="#000"/>
<ellipse cx="865.78" cy="221.16" rx="2.29" ry="2.29" transform="rotate(0 865.78 221.16)" stroke="#000" stroke-width="0.71" fill="#000"/>
<ellipse cx="877.22" cy="221.45" rx="1.43" ry="1.43" transform="rotate(0 877.22 221.45)" stroke="#000" stroke-width="0.71" fill="#000"/>
<path d="M 858.63 250.77 L 887.52 244.33 L 889.38 257.2 L 860.06 267.21 Z" stroke="#000" stroke-width="2.13" fill="#fff" />
<path d="M 859.35 250.34 L 875.79 249.34 L 876.08 256.49 L 858.92 257.49 Z" stroke="#000" stroke-width="1.42" fill="#222" />
<path d="M 862.92 253.63 L 872.93 252.62" stroke="#fff" stroke-width="2.27" fill="none" />
<path d="M 858.92 257.49 L 888.66 251.77 M 860.78 262.92 L 874.36 259.35 L 874.36 256.49" stroke="#000" stroke-width="1.85" fill="none" />
<path d="M 877.22 253.2 L 883.66 252.05 L 883.94 250.05 L 877.51 251.19 Z" stroke="#555" stroke-width="1.28" fill="none" />
<ellipse cx="890.38" cy="245.05" rx="2.72" ry="2.72" transform="rotate(0 890.38 245.05)" stroke="#000" stroke-width="0.71" fill="#000"/>
<ellipse cx="884.37" cy="245.47" rx="1.29" ry="1.14" transform="rotate(0 884.37 245.47)" stroke="#000" stroke-width="1.70" fill="none"/>
<ellipse cx="882.94" cy="258.63" rx="0.72" ry="0.72" transform="rotate(0 882.94 258.63)" stroke="#000" stroke-width="0.71" fill="#000"/>
<ellipse cx="862.92" cy="263.64" rx="0.72" ry="0.72" transform="rotate(0 862.92 263.64)" stroke="#000" stroke-width="0.71" fill="#000"/>
<ellipse cx="874.36" cy="261.49" rx="0.72" ry="0.72" transform="rotate(0 874.36 261.49)" stroke="#000" stroke-width="0.71" fill="#000"/>
<path d="M 884.37 261.2 L 895.52 259.77 L 897.24 265.78 L 886.09 268.07 Z" stroke="#000" stroke-width="1.42" fill="#222" />
<path d="M 838.61 280.37 L 848.33 279.08 L 852.34 288.37 L 843.19 291.81 Z" stroke="#000" stroke-width="1.42" fill="#222" />
<path d="M 842.19 283.66 L 847.19 282.65" stroke="#fff" stroke-width="2.27" fill="none" />
<path d="M 901.24 278.36 L 931.56 272.22 M 901.24 278.36 L 903.25 283.66 L 931.56 277.51 M 903.25 283.66 L 928.7 322.98 M 914.4 293.24 L 931.56 288.66 M 914.4 293.24 L 931.56 322.98 M 917.26 292.66 L 933.71 320.84" stroke="#000" stroke-width="1.99" fill="none" />
<path d="M 903.25 281.08 L 931.56 274.79" stroke="#555" stroke-width="3.12" fill="none" stroke-dasharray="1.2 1.2"/>
</g>
<path d="M 662.68 261.68 L 664.52 249.42 Q 665.5 247.21 667.21 248.81 Q 667.95 250.64 667.58 252.48 L 666.23 260.7" stroke="#000" stroke-width="1.85" fill="#fff" />
<circle cx="177.2" cy="386" r="42.6" fill="none" stroke="#0000ff" stroke-width="3.1"/>
<circle cx="857.5" cy="253.7" r="42.4" fill="none" stroke="#0000ff" stroke-width="3.1"/>
<line x1="317.2" y1="432.8" x2="244.1" y2="403.3" stroke="#0000ff" stroke-width="2.2" stroke-linecap="butt"/>
<polygon points="226,396 247.6,394.6 240.6,412.0" fill="#0000ff"/>
<line x1="817.3" y1="355.5" x2="831.8" y2="315.5" stroke="#0000ff" stroke-width="2.2" stroke-linecap="butt"/>
<polygon points="838.4,297.2 840.6,318.7 822.9,312.3" fill="#0000ff"/>
<rect x="1" y="0" width="978" height="1.2" fill="#000"/>
<rect x="0" y="67.6" width="979" height="1.3" fill="#000"/>
<rect x="134.8" y="505.8" width="114.6" height="45" fill="#fff" stroke="#000" stroke-width="1.9"/>
<rect x="134.8" y="902.2" width="114.6" height="46" fill="#fff" stroke="#000" stroke-width="1.9"/>
<text x="280.6 296.3 307.6 316.6 333.9 346.9 357.0 370.5 382.9 395.2 407.6 422.2 434.6 444.0 458.1 472.8" y="532.3" font-size="19.3" fill="#cf0a12" stroke="#cf0a12" stroke-width="0.6">X_LMT_SENSOR_DOG</text>
<text x="537.7 551.5 563.1 579.0 583.6 598.0 610.3 621.9 632.7 641.9 658.7 671.6 680.8 694.0 706.2 719.4 730.7 746.0 758.3 767.5 781.9 795.1 807.3" y="530.5" font-size="19.3" fill="#cf0a12" stroke="#cf0a12" stroke-width="0.6">X_MINUS_LMT_SENSOR_ASSY</text>
<text x="275.1 290.8 302.1 311.1 328.4 341.4 351.5 365.0 377.4 389.7 402.1 416.7 429.1 438.5 452.6 467.3" y="934.3" font-size="19.3" fill="#cf0a12" stroke="#cf0a12" stroke-width="0.6">X_LMT_SENSOR_DOG</text>
<text x="539.8 553.9 564.3 577.5 588.2 601.1 613.4 623.5 632.7 650.1 662.4 671.6 684.8 697.0 710.2 722.5 737.8 750.0 758.3 773.6 786.8 799.1" y="931.5" font-size="19.3" fill="#cf0a12" stroke="#cf0a12" stroke-width="0.6">X_PLUS_LMT_SENSOR_ASSY</text>
<path d="M 376.22 566.03 L 376.22 683.7" stroke="#222" stroke-width="1.4" fill="none" />
<path d="M 377.69 634.06 L 377.69 832.07" stroke="#222" stroke-width="1.4" fill="none" />
<path d="M 378.98 582.58 L 378.98 634.06" stroke="#222" stroke-width="2.6" fill="none" />
<path d="M 380.08 566.03 L 380.08 582.58" stroke="#222" stroke-width="1.4" fill="none" />
<path d="M 384.13 566.03 L 384.13 674.51 Q 384.49 681.86 390.56 683.7 L 472.38 683.7 L 476.97 681.86" stroke="#222" stroke-width="1.4" fill="none" />
<path d="M 376.77 681.86 L 383.76 688.85 L 475.14 688.85 L 479.36 683.7" stroke="#222" stroke-width="1.4" fill="none" />
<path d="M 385.96 690.14 L 404.35 690.14 M 450.31 690.14 L 472.38 690.14" stroke="#222" stroke-width="1.6" fill="none" />
<path d="M 463.18 683.7 L 463.18 688.85 M 469.62 683.7 L 469.62 688.85" stroke="#222" stroke-width="0.8" fill="none" />
<path d="M 393.32 566.4 L 400.67 566.4" stroke="#222" stroke-width="1.4" fill="none" />
<circle cx="403.8" cy="608.32" r="18.57" stroke="#222" stroke-width="1.7" fill="none"/>
<circle cx="403.8" cy="608.32" r="14.71" stroke="#222" stroke-width="1.4" fill="none"/>
<path d="M 389.64 608.32 L 418.14 608.32" stroke="#222" stroke-width="1.4" fill="none" />
<path d="M 384.13 589.01 L 400.67 589.01 M 384.13 627.62 L 401.59 627.62" stroke="#222" stroke-width="1.4" fill="none" />
<circle cx="396.63" cy="661.64" r="11.03" stroke="#222" stroke-width="1.4" fill="none"/>
<circle cx="396.63" cy="661.64" r="5.52" stroke="#222" stroke-width="1.4" fill="none"/>
<circle cx="396.63" cy="661.64" r="2.76" stroke="#222" stroke-width="0.8" fill="none"/>
<path d="M 434.69 683.7 L 434.69 676.35 Q 434.69 664.95 446.09 664.95 Q 457.67 664.95 457.67 676.35 L 457.67 683.7" stroke="#222" stroke-width="1.4" fill="none" />
<circle cx="446.09" cy="676.35" r="7.35" stroke="#222" stroke-width="1.4" fill="none"/>
<circle cx="446.09" cy="676.35" r="3.31" stroke="#222" stroke-width="0.8" fill="none"/>
<path d="M 446.09 673.59 L 446.09 679.1" stroke="#222" stroke-width="0.8" fill="none" />
<path d="M 478.81 644.17 L 478.81 683.7" stroke="#222" stroke-width="1.4" fill="none" />
<path d="M 429.91 635.59 L 429.91 581.96 Q 430.21 579.61 434.3 578.69 Q 436.55 577.98 436.96 575.32 Q 437.98 572.05 441.96 572.05 Q 446.05 572.26 447.17 576.34 Q 448.8 580.63 454.73 581.96 L 469.03 581.96 Q 474.34 580.43 478.22 573.28 L 478.22 566.13 M 478.22 572.97 L 490.48 572.77 Q 492.32 573.28 493.03 575.32" stroke="#222" stroke-width="1.4" fill="none" />
<path d="M 429.91 635.59 Q 430.21 637.83 434.81 638.96 Q 436.34 639.67 436.96 641.72 Q 438.18 644.78 441.96 644.78 Q 445.94 644.58 447.17 640.69 Q 448.8 636.1 454.73 634.57 L 470.05 634.57 Q 473.63 636.1 478.22 643.96 L 492.73 644.27" stroke="#222" stroke-width="1.4" fill="none" />
<path d="M 493.03 569.7 L 493.03 651.22 M 493.03 569.91 L 501.72 565.62" stroke="#222" stroke-width="1.4" fill="none" />
<path d="M 492.32 598.3 L 492.32 618.73" stroke="#222" stroke-width="2.4" fill="none" />
<path d="M 354.71 672.12 L 375.85 671.38 M 354.71 696.94 L 377.69 696.2" stroke="#222" stroke-width="1.4" fill="none" />
<path d="M 492.76 641.41 L 643.52 641.41 M 492.76 651.53 L 643.52 651.53" stroke="#222" stroke-width="1.4" fill="none" />
<path d="M 559.87 566.03 L 535.96 579.82 Q 531.37 583.5 531.37 589.93 L 531.37 610.16 Q 532.29 623.03 544.24 623.39 L 607.67 623.39 Q 620.54 622.11 620.91 610.16 L 620.91 566.03" stroke="#222" stroke-width="1.4" fill="none" />
<path d="M 531.74 597.29 L 531.74 615.67" stroke="#222" stroke-width="2.2" fill="none" />
<path d="M 501.95 652.44 Q 502.87 659.8 507.47 663.84 L 535.96 663.84 Q 539.64 659.8 540.56 652.44" stroke="#222" stroke-width="1.4" fill="none" />
<path d="M 504.71 658.88 L 538.72 658.88" stroke="#222" stroke-width="1.2" fill="none" />
<path d="M 354.71 718.13 L 473.3 721.81 L 473.3 770.35 L 388.17 774.57" stroke="#222" stroke-width="1.4" fill="none" />
<path d="M 354.71 722.18 L 377.69 723.09" stroke="#222" stroke-width="0.7" fill="none" />
<path d="M 385.05 728.06 L 473.3 731.37 M 413.54 762.99 L 473.3 760.23" stroke="#222" stroke-width="1.4" fill="none" />
<path d="M 385.96 733.21 L 385.96 774.94 M 388.72 733.21 L 388.72 774.57 M 392.4 737.8 L 392.4 772.18 M 394.79 738.17 L 394.79 771.82 M 412.62 737.8 L 412.62 771.82 M 392.4 737.8 L 412.62 737.8" stroke="#222" stroke-width="1.4" fill="none" />
<path d="M 354.71 696.8 L 377.69 696.07 M 354.71 787.81 L 383.21 787.08 M 354.71 821.83 L 377.69 821.09 M 354.71 832.49 L 377.69 831.2" stroke="#222" stroke-width="1.4" fill="none" />
<path d="M 377.69 726.77 Q 378.06 724.57 380.82 724.93 Q 384.13 725.3 384.13 728.61 L 384.13 802.15 Q 385.05 814.1 395.16 815.02 L 510.99 815.02 Q 524.78 813.18 524.96 800.31" stroke="#222" stroke-width="1.4" fill="none" />
<path d="M 377.69 726.77 L 377.69 803.99 Q 379.53 820.54 394.24 822.01 L 512.83 822.01 Q 531.21 819.62 532.68 800.31" stroke="#222" stroke-width="1.4" fill="none" />
<path d="M 377.69 735.05 L 384.13 735.05 M 377.69 790.2 L 384.13 790.2 M 377.69 798.48 L 384.13 798.48" stroke="#222" stroke-width="1.4" fill="none" />
<path d="M 524.93 800.31 L 524.93 677.87 Q 524.93 677.13 525.67 677.13 L 531.92 677.13 Q 532.65 677.13 532.65 677.87 L 532.65 800.31" stroke="#222" stroke-width="1.4" fill="none" />
<path d="M 524.93 711.14 L 532.65 711.14 M 524.93 720.34 L 532.65 720.34 M 524.93 685.96 L 532.65 685.96" stroke="#222" stroke-width="1.4" fill="none" />
<path d="M 575.49 808.54 L 575.49 662.56 Q 576.05 653.36 584.69 652.44 L 634.33 652.44 L 634.33 659.25 L 586.53 659.25 Q 581.38 659.8 581.01 665.31 L 581.01 808.54 Z" stroke="#222" stroke-width="1.4" fill="none" />
<path d="M 627.89 652.44 L 627.89 659.25" stroke="#222" stroke-width="1.4" fill="none" />
<path d="M 594.8 659.25 L 594.8 673.59 L 621.46 673.59 L 621.46 659.25" stroke="#222" stroke-width="1.4" fill="none" />
<path d="M 575.49 801.23 L 581.93 801.23 M 574.57 686.32 L 574.57 807.67" stroke="#222" stroke-width="1.1" fill="none" />
<path d="M 574.94 693.68 L 574.94 719.42 M 574.94 767.22 L 574.94 800.31" stroke="#222" stroke-width="2.0" fill="none" />
<path d="M 536.88 684.67 L 536.88 723.09 L 573.66 723.09 M 571.82 684.67 L 571.82 723.09 M 536.88 684.67 L 575.49 684.67" stroke="#222" stroke-width="1.4" fill="none" />
<path d="M 563.54 723.65 L 573.66 723.65" stroke="#222" stroke-width="2.2" fill="none" />
<path d="M 565.38 683.7 L 575.49 683.7" stroke="#222" stroke-width="2.4" fill="none" />
<path d="M 536.88 765.38 L 573.66 765.38 M 536.88 765.38 L 536.88 803.99 L 573.66 803.99 M 571.82 765.38 L 571.82 803.99" stroke="#222" stroke-width="1.4" fill="none" />
<path d="M 563.54 764.83 L 573.66 764.83 M 563.54 804.91 L 573.66 804.91" stroke="#222" stroke-width="2.2" fill="none" />
<path d="M 537.25 770.9 L 537.25 800.31" stroke="#222" stroke-width="1.8" fill="none" />
<path d="M 581.93 696.44 L 586.53 696.44 L 586.53 709.31 L 581.93 709.31 M 581.93 778.25 L 586.53 778.25 L 586.53 791.12 L 581.93 791.12" stroke="#222" stroke-width="1.4" fill="none" />
<path d="M 583.4 697.35 L 583.4 708.39 M 583.4 779.17 L 583.4 790.2" stroke="#222" stroke-width="2.0" fill="none" />
<path d="M 377.52 972.03 L 377.52 1089.7" stroke="#222" stroke-width="1.4" fill="none" />
<path d="M 378.99 1040.06 L 378.99 1238.07" stroke="#222" stroke-width="1.4" fill="none" />
<path d="M 380.28 988.58 L 380.28 1040.06" stroke="#222" stroke-width="2.6" fill="none" />
<path d="M 381.38 972.03 L 381.38 988.58" stroke="#222" stroke-width="1.4" fill="none" />
<path d="M 385.43 972.03 L 385.43 1080.51 Q 385.79 1087.86 391.86 1089.7 L 473.68 1089.7 L 478.27 1087.86" stroke="#222" stroke-width="1.4" fill="none" />
<path d="M 378.07 1087.86 L 385.06 1094.85 L 476.44 1094.85 L 480.66 1089.7" stroke="#222" stroke-width="1.4" fill="none" />
<path d="M 387.26 1096.14 L 405.65 1096.14 M 451.61 1096.14 L 473.68 1096.14" stroke="#222" stroke-width="1.6" fill="none" />
<path d="M 464.48 1089.7 L 464.48 1094.85 M 470.92 1089.7 L 470.92 1094.85" stroke="#222" stroke-width="0.8" fill="none" />
<path d="M 394.62 972.4 L 401.97 972.4" stroke="#222" stroke-width="1.4" fill="none" />
<circle cx="405.1" cy="1014.32" r="18.57" stroke="#222" stroke-width="1.7" fill="none"/>
<circle cx="405.1" cy="1014.32" r="14.71" stroke="#222" stroke-width="1.4" fill="none"/>
<path d="M 390.94 1014.32 L 419.44 1014.32" stroke="#222" stroke-width="1.4" fill="none" />
<path d="M 385.43 995.01 L 401.97 995.01 M 385.43 1033.62 L 402.89 1033.62" stroke="#222" stroke-width="1.4" fill="none" />
<circle cx="397.93" cy="1067.64" r="11.03" stroke="#222" stroke-width="1.4" fill="none"/>
<circle cx="397.93" cy="1067.64" r="5.52" stroke="#222" stroke-width="1.4" fill="none"/>
<circle cx="397.93" cy="1067.64" r="2.76" stroke="#222" stroke-width="0.8" fill="none"/>
<path d="M 434.69 1089.7 L 434.69 1082.35 Q 434.69 1070.95 446.09 1070.95 Q 457.67 1070.95 457.67 1082.35 L 457.67 1089.7" stroke="#222" stroke-width="1.4" fill="none" />
<circle cx="446.09" cy="1082.35" r="7.35" stroke="#222" stroke-width="1.4" fill="none"/>
<circle cx="446.09" cy="1082.35" r="3.31" stroke="#222" stroke-width="0.8" fill="none"/>
<path d="M 446.09 1079.59 L 446.09 1085.1" stroke="#222" stroke-width="0.8" fill="none" />
<path d="M 478.81 1050.17 L 478.81 1089.7" stroke="#222" stroke-width="1.4" fill="none" />
<path d="M 429.91 1041.59 L 429.91 987.96 Q 430.21 985.61 434.3 984.69 Q 436.55 983.98 436.96 981.32 Q 437.98 978.05 441.96 978.05 Q 446.05 978.26 447.17 982.34 Q 448.8 986.63 454.73 987.96 L 469.03 987.96 Q 474.34 986.43 478.22 979.28 L 478.22 972.13 M 478.22 978.97 L 490.48 978.77 Q 492.32 979.28 493.03 981.32" stroke="#222" stroke-width="1.4" fill="none" />
<path d="M 429.91 1041.59 Q 430.21 1043.83 434.81 1044.96 Q 436.34 1045.67 436.96 1047.72 Q 438.18 1050.78 441.96 1050.78 Q 445.94 1050.58 447.17 1046.69 Q 448.8 1042.1 454.73 1040.57 L 470.05 1040.57 Q 473.63 1042.1 478.22 1049.96 L 492.73 1050.27" stroke="#222" stroke-width="1.4" fill="none" />
<path d="M 493.03 975.7 L 493.03 1057.22 M 493.03 975.91 L 501.72 971.62" stroke="#222" stroke-width="1.4" fill="none" />
<path d="M 492.32 1004.3 L 492.32 1024.73" stroke="#222" stroke-width="2.4" fill="none" />
<path d="M 356.01 1078.12 L 377.15 1077.38 M 356.01 1102.94 L 378.99 1102.2" stroke="#222" stroke-width="1.4" fill="none" />
<path d="M 492.76 1048.33 L 636.72 1048.33 M 492.76 1057.53 L 636.72 1057.53" stroke="#222" stroke-width="1.4" fill="none" />
<path d="M 559.87 972.4 L 535.05 985.82 Q 530.08 989.5 530.08 995.93 L 530.08 1016.16 Q 531.37 1029.03 543.32 1029.76 L 603.99 1029.76 Q 616.86 1028.66 617.78 1016.16 L 617.78 972.4" stroke="#222" stroke-width="1.4" fill="none" />
<path d="M 530.63 1005.13 L 530.63 1018.0" stroke="#222" stroke-width="2.2" fill="none" />
<path d="M 501.03 1058.44 Q 501.95 1066.72 506.55 1070.76 L 534.13 1070.76 Q 538.17 1066.72 539.27 1058.44" stroke="#222" stroke-width="1.4" fill="none" />
<path d="M 503.79 1062.67 L 537.8 1062.67 M 504.71 1064.88 L 536.88 1064.88" stroke="#222" stroke-width="1.6" fill="none" />
<path d="M 356.01 1124.13 L 474.6 1127.81 L 474.6 1176.35 L 389.47 1180.57" stroke="#222" stroke-width="1.4" fill="none" />
<path d="M 356.01 1128.18 L 378.99 1129.09" stroke="#222" stroke-width="0.7" fill="none" />
<path d="M 386.35 1134.06 L 474.6 1137.37 M 414.84 1168.99 L 474.6 1166.23" stroke="#222" stroke-width="1.4" fill="none" />
<path d="M 387.26 1139.21 L 387.26 1180.94 M 390.02 1139.21 L 390.02 1180.57 M 393.7 1143.8 L 393.7 1178.18 M 396.09 1144.17 L 396.09 1177.82 M 413.92 1143.8 L 413.92 1177.82 M 393.7 1143.8 L 413.92 1143.8" stroke="#222" stroke-width="1.4" fill="none" />
<path d="M 356.01 1102.8 L 378.99 1102.07 M 356.01 1193.81 L 384.51 1193.08 M 356.01 1227.83 L 378.99 1227.09 M 356.01 1238.49 L 378.99 1237.2" stroke="#222" stroke-width="1.4" fill="none" />
<path d="M 378.98 1132.77 Q 379.35 1130.57 382.11 1130.93 Q 385.42 1131.3 385.42 1134.61 L 385.42 1208.15 Q 386.34 1220.1 396.45 1221.02 L 509.7 1221.02 Q 523.49 1219.18 523.67 1206.31" stroke="#222" stroke-width="1.4" fill="none" />
<path d="M 378.98 1132.77 L 378.98 1209.99 Q 380.82 1226.54 395.53 1228.01 L 511.54 1228.01 Q 529.92 1225.62 531.4 1206.31" stroke="#222" stroke-width="1.4" fill="none" />
<path d="M 378.99 1141.05 L 385.43 1141.05 M 378.99 1196.2 L 385.43 1196.2 M 378.99 1204.48 L 385.43 1204.48" stroke="#222" stroke-width="1.4" fill="none" />
<path d="M 523.65 1206.31 L 523.65 1083.87 Q 523.65 1083.13 524.38 1083.13 L 530.63 1083.13 Q 531.37 1083.13 531.37 1083.87 L 531.37 1206.31" stroke="#222" stroke-width="1.4" fill="none" />
<path d="M 523.65 1117.14 L 531.37 1117.14 M 523.65 1126.34 L 531.37 1126.34 M 523.65 1091.96 L 531.37 1091.96" stroke="#222" stroke-width="1.4" fill="none" />
<path d="M 571.82 1214.54 L 571.82 1068.56 Q 572.37 1059.36 581.01 1058.44 L 630.65 1058.44 L 630.65 1065.25 L 583.77 1065.25 Q 579.54 1065.8 579.54 1071.31 L 579.54 1214.54 Z" stroke="#222" stroke-width="1.4" fill="none" />
<path d="M 625.14 1058.44 L 625.14 1065.25" stroke="#222" stroke-width="1.4" fill="none" />
<path d="M 592.04 1065.25 L 592.04 1079.59 L 618.7 1079.59 L 618.7 1065.25" stroke="#222" stroke-width="1.4" fill="none" />
<path d="M 571.82 1206.31 L 579.72 1206.31" stroke="#222" stroke-width="1.4" fill="none" />
<path d="M 535.05 1132.77 L 571.82 1132.77 M 535.05 1132.77 L 535.05 1171.38 L 571.82 1171.38 M 546.08 1132.77 L 546.08 1171.38 M 570.35 1132.77 L 570.35 1171.38" stroke="#222" stroke-width="1.4" fill="none" />
<path d="M 563.54 1131.48 L 571.82 1131.48 M 563.54 1172.3 L 571.82 1172.3" stroke="#222" stroke-width="2.4" fill="none" />
<path d="M 570.9 1139.21 L 558.03 1139.21 Q 548.47 1140.13 548.47 1152.08 Q 548.47 1164.03 558.03 1164.95 L 570.9 1164.95" stroke="#222" stroke-width="1.4" fill="none" />
<circle cx="558.03" cy="1152.08" r="7.35" stroke="#222" stroke-width="1.4" fill="none"/>
<path d="M 538.17 1139.76 L 544.24 1139.76 L 544.24 1144.17 M 538.17 1165.5 L 544.24 1165.5 L 544.24 1160.35" stroke="#222" stroke-width="0.8" fill="none" />
<path d="M 536.7 1144.17 L 536.7 1160.35" stroke="#222" stroke-width="2.4" fill="none" />
<path d="M 580.09 1144.72 L 584.69 1144.72 L 584.69 1159.43 L 580.09 1159.43" stroke="#222" stroke-width="1.4" fill="none" />
<path d="M 571.45 1138.29 L 571.45 1165.87" stroke="#222" stroke-width="2.0" fill="none" />
<line x1="383" y1="546" x2="501.6" y2="691.5" stroke="#e02a34" stroke-width="1.3"/>
<polygon points="513,705.5 494.7,697.2 508.6,685.9" fill="#f00008"/>
<line x1="681" y1="546" x2="602.1" y2="703.4" stroke="#e02a34" stroke-width="1.3"/>
<polygon points="594,719.5 594.0,699.4 610.1,707.4" fill="#f00008"/>
<line x1="386" y1="948" x2="501.8" y2="1093.4" stroke="#e02a34" stroke-width="1.3"/>
<polygon points="513,1107.5 494.7,1099.0 508.8,1087.8" fill="#f00008"/>
<line x1="681" y1="948" x2="601.2" y2="1104.5" stroke="#e02a34" stroke-width="1.3"/>
<polygon points="593,1120.5 593.2,1100.4 609.2,1108.6" fill="#f00008"/>
<path d="M293 879.3 L528.5 879.3 M516 874.3 L528.5 879.3 L516 884.3" stroke="#2f7fc1" stroke-width="1.3" fill="none"/>
<path d="M581 879.3 L538.5 879.3 M551.5 874.3 L538.5 879.3 L551.5 884.3" stroke="#2f7fc1" stroke-width="1.3" fill="none"/>
<path d="M530.9 815 L530.9 889.3 M535.4 726 L535.4 889.3" stroke="#3a93d4" stroke-width="1.2" fill="none"/>
<text x="298.5" y="875.2" font-size="20.3" fill="#2f7fc1" textLength="27" lengthAdjust="spacingAndGlyphs">0.8</text>
<text x="350" y="875.2" font-size="20.3" fill="#2f7fc1" textLength="26" lengthAdjust="spacingAndGlyphs">1.5</text>
<text x="450.5" y="875.2" font-size="20.3" fill="#2f7fc1" textLength="56.5" lengthAdjust="spacingAndGlyphs">1.0mm</text>
<path d="M510.5 857 Q519 866 510 875" stroke="#2f7fc1" stroke-width="1.2" fill="none"/>
<path d="M 383.58 856.9 Q 379.49 865.07 384.4 874.06" stroke="#2f7fc1" stroke-width="1.1" fill="none" />
<path d="M 390.52 856.9 L 386.44 861.15 M 385.62 869.57 L 389.54 865.48 M 387.25 857.72 Q 391.34 865.89 390.11 873.41 Q 389.3 875.28 386.44 874.22" stroke="#2f7fc1" stroke-width="1.1" fill="none" />
<path d="M 395.02 857.31 L 402.78 857.31 L 402.78 874.22 M 395.02 857.31 L 395.02 874.22 M 395.02 862.87 L 402.78 862.87 M 395.02 868.5 L 402.78 868.5 M 392.16 874.39 L 405.23 874.39" stroke="#2f7fc1" stroke-width="1.2" fill="none" />
<path d="M 407.68 858.13 Q 407.52 868.34 408.66 871.61 Q 409.72 874.47 412.58 870.14 M 419.12 860.99 Q 422.39 865.07 423.2 870.14" stroke="#2f7fc1" stroke-width="1.2" fill="none" />
<path d="M 433.42 857.31 L 445.26 857.31 L 445.26 874.47 L 433.42 874.47 Z M 433.42 863.03 L 445.26 863.03 M 433.42 868.75 L 445.26 868.75" stroke="#2f7fc1" stroke-width="1.2" fill="none" />
<path d="M327 867.5 Q332 861 337.5 866.5 T348 865.5" stroke="#2f7fc1" stroke-width="1.3" fill="none"/>
<path d="M293 1284.9 L528.5 1284.9 M516 1279.9 L528.5 1284.9 L516 1289.9" stroke="#2f7fc1" stroke-width="1.3" fill="none"/>
<path d="M581 1284.9 L538.5 1284.9 M551.5 1279.9 L538.5 1284.9 L551.5 1289.9" stroke="#2f7fc1" stroke-width="1.3" fill="none"/>
<path d="M530.9 1221.5 L530.9 1294.9 M535.4 1173.5 L535.4 1294.9" stroke="#3a93d4" stroke-width="1.2" fill="none"/>
<text x="298.5" y="1280.8000000000002" font-size="20.3" fill="#2f7fc1" textLength="27" lengthAdjust="spacingAndGlyphs">0.8</text>
<text x="350" y="1280.8000000000002" font-size="20.3" fill="#2f7fc1" textLength="26" lengthAdjust="spacingAndGlyphs">1.5</text>
<text x="450.5" y="1280.8000000000002" font-size="20.3" fill="#2f7fc1" textLength="56.5" lengthAdjust="spacingAndGlyphs">1.0mm</text>
<path d="M510.5 1262.6 Q519 1271.6 510 1280.6" stroke="#2f7fc1" stroke-width="1.2" fill="none"/>
<path d="M 383.58 1262.5 Q 379.49 1270.67 384.4 1279.66" stroke="#2f7fc1" stroke-width="1.1" fill="none" />
<path d="M 390.52 1262.5 L 386.44 1266.75 M 385.62 1275.17 L 389.54 1271.08 M 387.25 1263.32 Q 391.34 1271.49 390.11 1279.01 Q 389.3 1280.88 386.44 1279.82" stroke="#2f7fc1" stroke-width="1.1" fill="none" />
<path d="M 395.02 1262.91 L 402.78 1262.91 L 402.78 1279.82 M 395.02 1262.91 L 395.02 1279.82 M 395.02 1268.47 L 402.78 1268.47 M 395.02 1274.1 L 402.78 1274.1 M 392.16 1279.99 L 405.23 1279.99" stroke="#2f7fc1" stroke-width="1.2" fill="none" />
<path d="M 407.68 1263.73 Q 407.52 1273.94 408.66 1277.21 Q 409.72 1280.07 412.58 1275.74 M 419.12 1266.59 Q 422.39 1270.67 423.2 1275.74" stroke="#2f7fc1" stroke-width="1.2" fill="none" />
<path d="M 433.42 1262.91 L 445.26 1262.91 L 445.26 1280.07 L 433.42 1280.07 Z M 433.42 1268.63 L 445.26 1268.63 M 433.42 1274.35 L 445.26 1274.35" stroke="#2f7fc1" stroke-width="1.2" fill="none" />
<path d="M327 1273.1 Q332 1266.6 337.5 1272.1 T348 1271.1" stroke="#2f7fc1" stroke-width="1.3" fill="none"/>
</svg>
</body></html>
